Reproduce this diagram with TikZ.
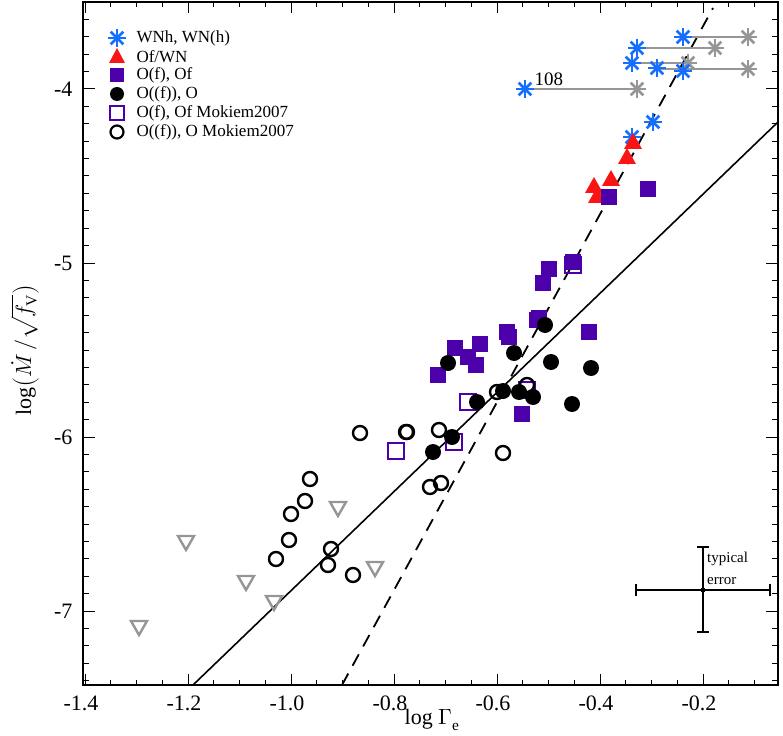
\documentclass[tikz,border=0pt]{standalone}
\usepackage{fontspec}
\setmainfont{Liberation Serif}
\usepackage{unicode-math}
\setmathfont{Latin Modern Math}
\definecolor{wblue}{RGB}{20,110,255}
\definecolor{wgray}{RGB}{150,150,150}
\definecolor{wpurp}{RGB}{75,0,170}
\definecolor{wred}{RGB}{250,20,20}
\newcommand\wstar[3]{\foreach \aa in {0,45,90,135}{\draw[#1,line width=2.6pt] ($(#2,#3)+(\aa:9)$)--($(#2,#3)+(\aa+180:9)$);}}
\newcommand\wtri[2]{\fill[wred] (#1,#2-10)--(#1-9,#2+6)--(#1+9,#2+6)--cycle;}
\newcommand\gtri[2]{\draw[wgray,line width=2.4pt,line join=miter] (#1-8,#2-6)--(#1+8,#2-6)--(#1,#2+8)--cycle;}
\newcommand\fsq[2]{\fill[wpurp] (#1-8,#2-8) rectangle (#1+8,#2+8);}
\newcommand\osq[2]{\draw[wpurp,line width=2.4pt] (#1-8,#2-8) rectangle (#1+8,#2+8);}
\newcommand\fci[2]{\fill (#1,#2) circle (8);}
\newcommand\oci[2]{\draw[line width=2.4pt] (#1,#2) circle (7);}
\usetikzlibrary{calc}
\begin{document}
\begin{tikzpicture}[x=1pt,y=-1pt]
\useasboundingbox (0,0) rectangle (783,735);
% frame and ticks
\draw[line width=1.3pt] (83,2) rectangle (778,685);
\foreach \i in {0,...,27}{\pgfmathsetmacro\xx{85+\i*25.75}
 \ifnum\i<27 \draw[line width=1pt] (\xx,685)--(\xx,680) (\xx,2)--(\xx,7);\fi}
\foreach \i/\l in {0/-1.4,1/-1.2,2/-1.0,3/-0.8,4/-0.6,5/-0.4,6/-0.2}{\pgfmathsetmacro\xx{85+\i*103}
 \draw[line width=1pt] (\xx,685)--(\xx,674) (\xx,2)--(\xx,13);
 \node[font=\fontsize{22}{24}\selectfont] at (\xx-4,703) {\l};}
\foreach \i in {-5,...,34}{\pgfmathsetmacro\yy{89+\i*17.4}
 \ifdim\yy pt>3pt \ifdim\yy pt<684pt \draw[line width=1pt] (83,\yy)--(89,\yy) (778,\yy)--(772,\yy);\fi\fi}
\foreach \i/\l in {0/-4,1/-5,2/-6,3/-7}{\pgfmathsetmacro\yy{89+\i*174}
 \draw[line width=1pt] (83,\yy)--(95,\yy) (778,\yy)--(766,\yy);
 \node[font=\fontsize{22}{24}\selectfont,anchor=east] at (76,\yy) {\l};}
\node[font=\fontsize{22}{24}\selectfont] at (432,720) {log $\Gamma_{\rm e}$};
\node[font=\fontsize{22}{24}\selectfont,rotate=90] at (25,350) {log$\left(\dot{M}\,/\sqrt{f_{\rm V}}\right)$};
% fit lines
\draw[line width=1.6pt] (193,685)--(778,122);
\draw[line width=1.8pt,dash pattern=on 13pt off 9pt] (342,685)--(713,8);
% gray connectors
\draw[wgray,line width=2pt] (683,37)--(748,37) (637,48)--(715,48) (632,63)--(688,63) (657,69)--(748,69) (525,89)--(637,89);
\foreach \x/\y in {748/37,715/48,688/63,748/69,637/89}{\wstar{wgray}{\x}{\y}}
\foreach \x/\y in {683/37,637/48,632/63,657/68,683/71,525/89,653/122,632/137}{\wstar{wblue}{\x}{\y}}
\node[font=\fontsize{19}{20}\selectfont,anchor=west] at (531,79) {108};
% triangles
\foreach \x/\y in {633/143,627/158,611/180,594/187,597/197}{\wtri{\x}{\y}}
\foreach \x/\y in {139/627,186/542,246/582,274/602,338/508,375/568}{\gtri{\x}{\y}}
% filled squares
\foreach \x/\y in {609/197,648/189,549/269,573/262,543/283,537/320,507/332,509/337,589/332,455/348,480/344,468/357,476/365,438/375,522/414,539/318}{\fsq{\x}{\y}}
\foreach \x/\y in {573/265,468/402,527/390,454/442,396/451}{\osq{\x}{\y}}
\foreach \x/\y in {545/325,514/353,448/363,551/362,591/368,503/391,519/392,533/397,572/404,477/402,452/437,433/452}{\fci{\x}{\y}}
\foreach \x/\y in {527/385,497/392,439/430,407/432,360/433,406/432,503/453,310/479,305/501,291/514,289/540,276/559,331/549,328/565,353/575,430/487,441/483}{\oci{\x}{\y}}
% error bar
\draw[line width=1.5pt] (636,590)--(770,590) (703,547)--(703,632)
 (636,584)--(636,596) (770,584)--(770,596) (697,547)--(709,547) (697,632)--(709,632);
\fill (703,590) circle (2.5);
\node[font=\fontsize{15}{15}\selectfont,anchor=south west,inner sep=1pt] at (706,567) {typical};
\node[font=\fontsize{15}{15}\selectfont,anchor=south west,inner sep=1pt] at (706,586) {error};
% legend
\begin{scope}[font=\fontsize{17}{18}\selectfont]
\wstar{wblue}{117}{38}
\node[anchor=west] at (133,38) {WNh, WN(h)};
\fill[wred] (117,48)--(109,63)--(125,63)--cycle;
\node[anchor=west] at (133,57) {Of/WN};
\fill[wpurp] (110,68) rectangle (124,82);
\node[anchor=west] at (133,75) {O(f), Of};
\fill (117,94) circle (7);
\node[anchor=west] at (133,94) {O((f)), O};
\draw[wpurp,line width=2.2pt] (110,106) rectangle (124,120);
\node[anchor=west] at (133,113) {O(f), Of Mokiem2007};
\draw[line width=2.2pt] (117,132) circle (6.5);
\node[anchor=west] at (133,132) {O((f)), O Mokiem2007};
\end{scope}
\end{tikzpicture}
\end{document}
